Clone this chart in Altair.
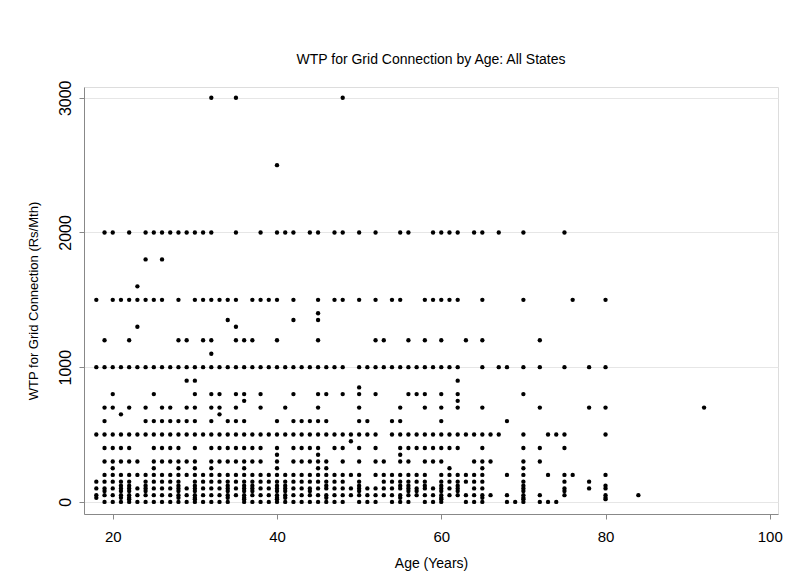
import altair as alt
import pandas as pd

# WTP levels (Rs/Mth) and the ages (years) at which a respondent dot appears
ages_3000 = [32, 35, 48]
ages_2500 = [40]
ages_2000 = [19, 20, 22, 24, 25, 26, 27, 28, 29, 30, 31, 32, 35, 38, 40, 41, 42, 44, 45, 47, 48,
             50, 52, 55, 56, 59, 60, 61, 62, 64, 65, 67, 70, 75]
ages_1800 = [24, 26]
ages_1600 = [23]
ages_1500 = [18, 20, 21, 22, 23, 24, 25, 26, 28, 30, 31, 32, 33, 34, 35, 37, 38, 39, 40, 42, 45, 47,
             48, 50, 52, 54, 55, 58, 59, 60, 61, 62, 65, 70, 76, 80]
ages_1400 = [45]
ages_1350 = [34, 42, 45]
ages_1300 = [23, 35]
ages_1200 = [19, 22, 28, 29, 31, 32, 35, 36, 37, 40, 45, 52, 53, 56, 58, 60, 63, 65, 72]
ages_1100 = [32]
ages_1000 = [18, 19, 20, 21, 22, 23, 24, 25, 26, 27, 28, 29, 30, 31, 32, 33, 34, 35, 36, 37, 38, 39,
             40, 41, 42, 43, 44, 45, 46, 47, 48, 50, 51, 52, 53, 54, 55, 56, 57, 58, 59, 60, 61, 62,
             65, 67, 68, 70, 72, 75, 78, 80]
ages_900 = [29, 30, 62]
ages_850 = [50]
ages_800 = [20, 25, 30, 32, 33, 35, 36, 38, 42, 45, 46, 48, 50, 52, 56, 57, 58, 60, 62, 70]
ages_750 = [36, 62]
ages_700 = [19, 20, 22, 24, 26, 27, 29, 30, 32, 33, 35, 38, 41, 45, 50, 55, 58, 60, 62, 65, 72, 78,
            80, 92]
ages_650 = [21, 33]
ages_600 = [19, 24, 25, 26, 27, 28, 29, 30, 32, 34, 35, 36, 40, 42, 43, 44, 45, 46, 50, 51, 54, 55,
            60, 68]
ages_500 = [18, 19, 20, 21, 22, 23, 24, 25, 26, 27, 28, 29, 30, 31, 32, 33, 34, 35, 36, 37, 38, 39,
            40, 41, 42, 43, 44, 45, 46, 47, 48, 49, 50, 51, 52, 54, 55, 56, 57, 58, 59, 60, 61, 62,
            63, 64, 65, 66, 67, 70, 73, 74, 75, 80]
ages_450 = [49]
ages_400 = [19, 20, 21, 22, 25, 26, 27, 28, 30, 32, 33, 34, 35, 36, 37, 38, 40, 42, 43, 44, 45, 47,
            48, 50, 52, 55, 56, 57, 58, 59, 60, 61, 62, 65, 70, 72, 75]
ages_350 = [40, 45, 55]
ages_300 = [19, 20, 21, 22, 23, 25, 26, 27, 28, 29, 30, 32, 33, 34, 35, 36, 37, 38, 40, 42, 43, 44,
            45, 46, 48, 50, 52, 53, 55, 56, 58, 59, 60, 64, 65, 66, 70, 72]
ages_250 = [20, 25, 28, 30, 32, 36, 40, 45, 46, 61, 65, 70]
ages_200 = [19, 20, 21, 22, 23, 24, 25, 26, 27, 28, 29, 30, 31, 32, 33, 34, 35, 36, 37, 38, 39, 40,
            41, 42, 43, 44, 45, 46, 47, 48, 49, 50, 52, 53, 54, 55, 56, 57, 58, 60, 61, 62, 63, 64,
            65, 68, 70, 73, 75, 76, 80]
ages_150 = [18, 19, 20, 21, 22, 24, 25, 26, 27, 28, 30, 31, 32, 33, 34, 35, 36, 37, 38, 39, 40, 41,
            42, 43, 44, 45, 46, 47, 48, 50, 53, 54, 55, 56, 57, 58, 60, 61, 62, 63, 64, 65, 70, 75, 78]
ages_120 = [21, 22, 24, 28, 30, 34, 36, 37, 40, 41, 46, 50, 55, 56, 58, 60, 62, 70, 80]
ages_100 = [18, 19, 20, 21, 22, 23, 24, 25, 26, 27, 28, 29, 30, 31, 32, 33, 34, 35, 36, 37, 38, 39,
            40, 41, 42, 43, 44, 45, 46, 47, 48, 49, 50, 51, 52, 53, 54, 55, 56, 57, 58, 59, 60, 61,
            62, 64, 65, 70, 75, 78, 80]
ages_80 = [19, 21, 22, 24, 28, 30, 34, 36, 37, 40, 41, 44, 50, 56, 57, 60, 62, 70, 75]
ages_50 = [18, 19, 20, 21, 22, 23, 24, 25, 26, 27, 28, 29, 30, 31, 32, 33, 34, 35, 36, 37, 38, 39,
           40, 41, 42, 43, 44, 45, 46, 47, 48, 49, 50, 51, 52, 53, 54, 55, 56, 57, 58, 59, 60, 61,
           62, 63, 64, 65, 66, 68, 70, 72, 75, 80, 84]
ages_30 = [18, 21, 22, 28, 30, 34, 36, 40, 41, 46, 55, 60, 65, 70, 80]
ages_20 = [22, 30, 36, 40, 60, 70, 80]
ages_0 = [19, 20, 21, 22, 23, 24, 25, 26, 27, 28, 29, 30, 31, 32, 33, 34, 36, 37, 38, 39, 40, 41, 42,
          43, 44, 45, 46, 47, 48, 50, 51, 52, 54, 55, 56, 58, 59, 60, 63, 64, 65, 68, 69, 70, 72, 73, 74]

levels = {
    3000: ages_3000, 2500: ages_2500, 2000: ages_2000, 1800: ages_1800, 1600: ages_1600,
    1500: ages_1500, 1400: ages_1400, 1350: ages_1350, 1300: ages_1300, 1200: ages_1200,
    1100: ages_1100, 1000: ages_1000, 900: ages_900, 850: ages_850, 800: ages_800,
    750: ages_750, 700: ages_700, 650: ages_650, 600: ages_600, 500: ages_500, 450: ages_450,
    400: ages_400, 350: ages_350, 300: ages_300, 250: ages_250, 200: ages_200, 150: ages_150,
    120: ages_120, 100: ages_100, 80: ages_80, 50: ages_50, 30: ages_30, 20: ages_20, 0: ages_0,
}

rows = [{"age": a, "wtp": v} for v, ages in levels.items() for a in ages]
df = pd.DataFrame(rows)

FONT = "Liberation Sans"

chart = alt.Chart(df).mark_circle(size=19, color="black", opacity=1).encode(
    x=alt.X(
        "age:Q",
        scale=alt.Scale(domain=[16.5, 101], nice=False, zero=False),
        axis=alt.Axis(
            values=[20, 40, 60, 80, 100], title="Age (Years)", grid=False, format="d",
            labelFontSize=15, titleFontSize=14, labelPadding=10, titlePadding=12,
            titleFontWeight="normal",
        ),
    ),
    y=alt.Y(
        "wtp:Q",
        scale=alt.Scale(domain=[-90, 3080], nice=False, zero=False),
        axis=alt.Axis(
            values=[0, 1000, 2000, 3000], title="WTP for Grid Connection (Rs/Mth)", format="d",
            grid=True, gridColor="#e6e6e6", gridWidth=1.2,
            labelAngle=270, labelAlign="center", labelBaseline="bottom",
            labelFontSize=16, titleFontSize=13, labelPadding=6, titlePadding=17,
            titleFontWeight="normal",
        ),
    ),
).properties(
    width=694,
    height=427,
    autosize="none",
    padding={"left": 84, "top": 87, "right": 15, "bottom": 64},
    title=alt.TitleParams(
        "WTP for Grid Connection by Age: All States",
        font=FONT, fontSize=14, fontWeight="normal", color="black", offset=13,
    ),
).configure_view(stroke=None).configure_axis(
    domainColor="#333333", tickColor="#333333", tickSize=7, domainWidth=1.2,
    labelFont=FONT, titleFont=FONT, labelColor="black", titleColor="black",
).configure(background="white")

chart.save("out.html", embed_options={"renderer": "svg", "actions": False})
